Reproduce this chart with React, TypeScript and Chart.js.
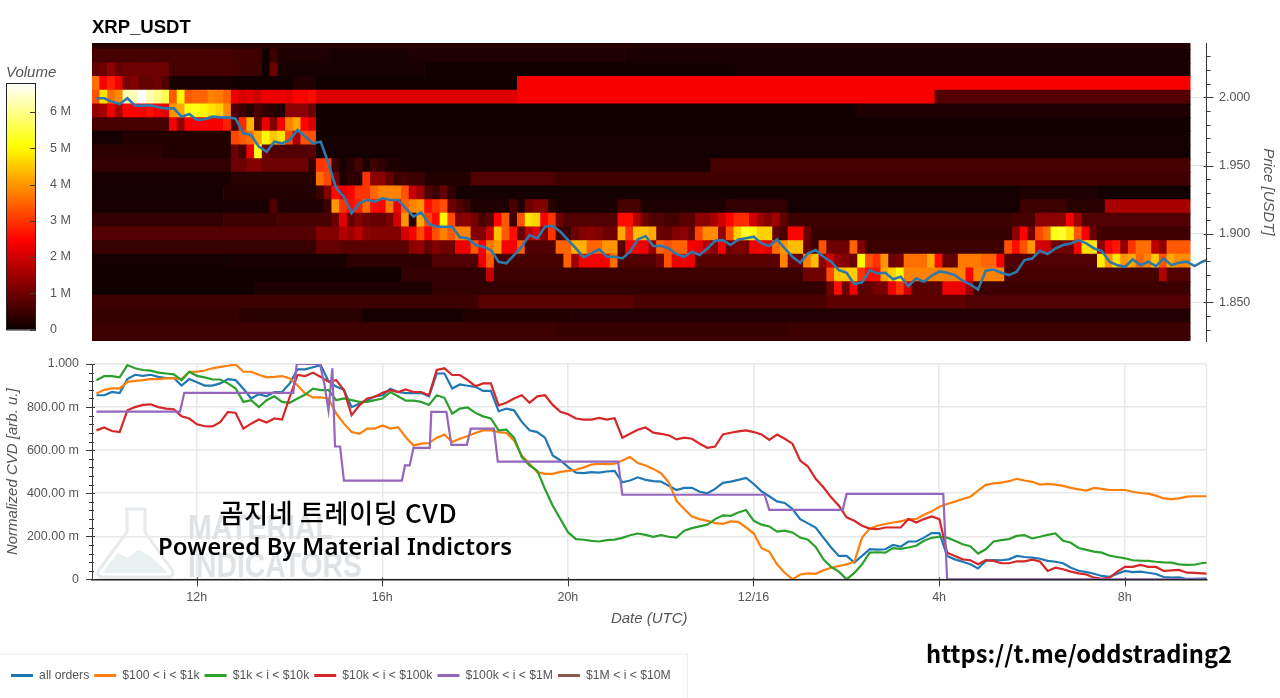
import React, { useEffect, useRef } from "react";
import { Chart, registerables } from "chart.js";

Chart.register(...registerables);
Chart.defaults.font.family = '"Liberation Sans", Arial, sans-serif';
Chart.defaults.animation = false as any;

// ---------- data ----------
const chartTitle = "XRP_USDT";
const legendLabels = ["all orders", "$100 < i < $1k", "$1k < i < $10k", "$10k < i < $100k", "$100k < i < $1M", "$1M < i < $10M"];
const seriesColors = ["#1f77b4", "#ff7f0e", "#2ca02c", "#d62728", "#9467bd", "#8c564b"];
const timeTickLabels: Record<number, string> = { 12: "12h", 16: "16h", 20: "20h", 24: "12/16", 28: "4h", 32: "8h" };

// heatmap rows: pairs of (number of 10-minute columns, volume in millions)
const r204 = [70, .3, 72, .22];
const r203 = [18, .6, 4, .55, 1, .05, 1, .5, 7, .2, 10, .12, 28, .2, 73, .15];
const r202 = [1, .9, 1, 1, 1, 1.3, 1, .9, 6, 1, 9, .6, 3, .5, 1, .05, 1, 1, 19, .12, 40, .08, 59, .15];
const r201 = [1, 3.6, 1, 2.4, 1, 2.8, 1, 2.3, 1, 1.1, 1, 1.2, 2, .9, 1, 1, 1, .7, 8, .15, 8, .08, 3, .25, 26, .05, 87, 2.42];
const r200 = [1, 3.3, 1, 4.8, 1, 3.6, 1, 3.9, 2, 6.3, 1, 6.8, 1, 6.3, 1, 6, 1, 5.6, 1, 3.4, 1, 5, 1, 3.4, 2, 3.5, 1, 3.8, 1, 3.7, 1, 3.5, 1, 2.3, 1, 2.1, 1, 2.2, 1, 2, 3, 2.3, 1, 2.2, 2, 2.5, 1, 2.6, 26, 2.15, 54, 2.42, 33, .75];
const r199 = [1, 1.4, 1, 1.6, 1, 2.3, 1, 1.6, 2, 2.5, 1, 2.4, 1, 2.6, 1, 2.4, 1, 2.2, 1, 4, 1, 4.2, 2, 5.2, 1, 5, 1, 4.8, 1, 4.6, 1, 3.9, 1, .7, 1, .5, 1, .3, 1, .6, 1, .4, 1, .3, 1, .2, 3, 1.3, 1, 1, 70, .08, 43, .2];
const r198 = [10, .6, 1, 2.4, 1, 1.4, 5, 2.4, 1, 2.8, 1, .6, 1, 2.9, 1, 4.3, 1, .8, 1, 2.3, 1, 1.2, 1, 2.4, 1, 3.8, 1, 4.2, 1, 2.5, 1, 2.1, 113, .08];
const r197 = [4, .1, 14, .25, 1, 3.2, 1, 3.4, 1, 3.6, 1, 4.2, 1, 5, 1, 4.5, 1, 4.8, 1, 3.2, 1, 1.6, 2, 3.3, 113, .1];
const r196 = [9, .35, 9, .25, 1, 1, 1, .6, 1, 2.3, 1, 5.2, 1, 1, 5, .7, 1, .8, 113, .1];
const r195 = [18, .4, 2, 1, 2, 1.2, 6, 1, 1, .4, 1, 3, 1, 3.1, 1, .5, 1, .15, 1, .3, 1, .6, 1, .2, 1, .5, 1, .4, 2, .2, 40, .15, 62, .6];
const r194 = [18, .15, 11, .3, 1, 3.6, 1, 3.2, 1, 1.1, 1, .2, 1, .4, 1, .3, 1, 3, 2, 1.3, 1, .9, 1, .5, 1, .6, 2, .5, 6, .25, 11, .7, 82, .55];
const r193 = [17, .1, 12, .25, 1, .5, 1, 1.2, 1, 2.6, 1, 2.2, 1, 2.5, 2, 3, 1, 3.5, 3, 3.8, 1, 3.3, 1, 1.9, 1, 1.5, 1, .7, 1, .5, 1, .9, 1, .4, 73, .1, 10, .2, 12, .08];
const r192 = [23, .15, 1, .7, 6, .2, 1, .5, 1, 4, 1, 3, 1, 2.6, 1, 2.8, 1, 3.6, 1, 2.6, 1, 2.5, 1, 3.7, 1, 2.3, 1, 3.5, 1, 3.8, 1, 4, 1, 2.6, 1, 3, 1, 3.3, 1, 1, 1, .7, 1, .5, 5, .2, 1, .6, 1, .2, 1, 1, 2, 1.2, 1, .3, 8, .15, 3, .6, 11, .2, 8, .4, 30, .1, 6, .5, 5, .3, 11, 1.6];
const r191 = [17, .4, 7, .5, 7, .6, 1, 1, 1, 2.2, 1, .9, 1, 1.2, 1, 1, 2, .9, 1, 1.1, 1, 2, 1, 4, 1, .3, 1, 4.2, 1, 3.2, 1, 2.6, 1, 5, 1, 3.2, 1, 1.2, 1, 1.3, 1, 1.1, 1, .6, 1, .8, 1, 2.5, 1, 3.4, 1, .5, 1, 3.3, 1, 4.8, 1, 4.6, 1, 2.4, 1, 3, 1, 1, 7, .7, 2, 2.6, 1, 1.7, 1, 1, 2, .7, 2, .6, 2, .8, 2, 1.3, 1, 1.6, 1, 2, 1, 2.5, 2, 2.9, 1, 2, 1, 1.5, 1, 1.2, 1, 1.5, 1, .9, 29, .5, 3, .6, 4, 1.3, 1, 2.4, 1, 1.5, 14, .7];
const r190 = [29, .75, 3, 1.2, 1, 1.7, 1, 1.5, 1, 1.8, 1, 1.3, 4, 1.2, 1, 2, 1, 2.4, 1, 3.2, 1, 2.4, 1, 3.3, 1, 3.8, 1, 3.4, 2, 3.8, 2, 1.2, 1, 2, 1, 4.4, 1, 3.4, 1, 2.6, 1, .9, 1, 1.8, 1, 2.2, 1, 1.2, 1, 3, 1, .6, 1, .5, 1, 1, 1, 1.2, 1, 1.3, 1, 1.2, 2, 1, 1, 4.2, 1, 3, 2, 4.4, 1, 4.2, 1, 1, 1, .9, 1, 1.2, 1, 1.3, 1, 1, 1, 3.2, 2, 3.9, 1, 1.4, 1, 3.3, 1, 4.6, 1, 5.3, 1, 5, 2, 4.6, 1, .9, 1, .6, 2, 2.5, 1, 1, 26, .45, 1, 1.3, 1, 2.5, 1, 1.1, 1, 3.2, 1, 3.6, 1, 5.2, 1, 5.4, 1, 4.8, 1, 3.4, 1, 2.4, 1, .9, 12, .55];
const r189 = [29, .45, 3, .9, 9, .8, 1, 1.3, 1, 1.4, 1, .9, 1, 1.2, 2, 1, 2, 2.3, 1, 3.4, 1, 2.4, 1, 3.7, 1, 4, 2, 2.4, 1, 3.4, 4, .7, 2, 3.5, 2, 4.3, 2, 3.5, 2, 4, 1, .8, 2, 2.4, 1, 2.3, 1, 1.4, 1, 3.5, 1, 3.3, 2, 3.5, 1, 2.4, 1, 2.3, 1, 1.7, 1, 1.2, 1, 2.4, 1, 1, 1, 1.2, 1, 1.1, 1, 2.3, 1, 2.4, 1, 2.2, 1, 3.6, 1, 4, 2, 4.4, 1, .9, 1, .5, 1, 3.3, 3, 1, 1, 3.5, 1, 1.2, 18, .5, 1, 3.3, 1, 2.6, 1, 3.3, 1, 4, 2, 2, 3, 1, 1, 2.5, 2, 4.8, 1, 1.3, 1, 2.4, 1, 2.7, 1, 1.4, 1, 3, 2, 3.6, 1, 1.8, 1, 1.4, 3, 3.4];
const r188 = [18, .1, 15, .15, 11, .35, 6, .7, 1, 2.3, 1, 3.4, 9, .6, 1, 3.5, 1, 1.5, 4, 2.4, 1, 3.6, 5, .7, 1, 1, 1, 3.3, 3, 2.3, 11, .8, 1, 3.8, 2, 1, 1, 3.8, 1, 4.4, 1, 1.3, 1, 2, 1, 1.4, 1, 1.2, 1, 1, 1, 5, 1, 3.3, 1, 3, 1, 4, 1, 1, 1, 1.1, 3, 3.6, 1, 4.2, 1, 2.6, 2, .9, 3, 3.7, 2, 3.5, 1, 2.4, 12, .7, 1, 4.9, 1, 4, 1, 4.8, 1, 4, 1, 4.2, 1, 3.5, 1, 3.8, 1, 4.5, 1, 3.3, 1, 4.2, 2, 3.9];
const r187 = [40, .08, 11, .4, 1, 1.9, 40, .5, 3, 1, 1, 3.2, 2, 4.5, 1, 4.6, 1, 3, 2, 2.6, 1, 4.2, 1, 4.6, 1, 5, 8, 3.8, 1, 2.5, 4, 3.8, 20, .6, 1, 1.7, 3, .7];
const r186 = [21, .05, 23, .2, 51, .4, 1, 1, 1, 2.6, 1, 1, 1, 2.4, 1, .8, 1, .9, 2, 1.1, 1, 2.4, 1, 3, 1, 2, 4, .8, 3, 2.3, 1, 1.5, 28, .5];
const r185 = [50, .5, 20, .8, 25, .65, 18, .85, 29, .7];
const r184 = [19, .45, 16, .3, 13, .12, 14, .25, 80, .22];
const r183 = [60, .5, 30, .45, 52, .5];
const r182 = [142, .5];

const heatPrices = [2.04, 2.03, 2.02, 2.01, 2.0, 1.99, 1.98, 1.97, 1.96, 1.95, 1.94, 1.93, 1.92, 1.91, 1.9, 1.89, 1.88, 1.87, 1.86, 1.85, 1.84, 1.83, 1.82];
const heatRows = [r204, r203, r202, r201, r200, r199, r198, r197, r196, r195, r194, r193, r192, r191, r190, r189, r188, r187, r186, r185, r184, r183, r182];

// series on the 10-minute grid
const price = [1.9993, 1.9993, 1.9968, 1.9951, 1.9993, 1.9939, 1.9939, 1.9941, 1.9927, 1.9919, 1.9919, 1.9858, 1.9878, 1.9834, 1.9839, 1.9858, 1.9853, 1.9853, 1.9844, 1.9736, 1.9724, 1.9639, 1.9602, 1.9675, 1.9663, 1.9688, 1.9761, 1.9712, 1.9663, 1.9675, 1.9517, 1.9334, 1.9273, 1.9151, 1.9224, 1.9249, 1.9236, 1.9261, 1.9249, 1.9249, 1.9188, 1.9127, 1.9158, 1.9073,
  1.9053, 1.9053, 1.9053, 1.8975, 1.8968, 1.8919, 1.8907, 1.8882, 1.8797, 1.8785, 1.8846, 1.8907, 1.8992, 1.8968, 1.9053, 1.906, 1.9016, 1.8955, 1.8894, 1.8829, 1.8858, 1.889, 1.8833, 1.8833, 1.8821, 1.887, 1.896, 1.8985, 1.8912, 1.8914, 1.8894, 1.8853, 1.8833, 1.887, 1.8846, 1.8894, 1.895, 1.8955, 1.8919, 1.896, 1.8968, 1.898, 1.8931, 1.8912, 1.896, 1.8894, 1.8833, 1.8789, 1.8858, 1.8882, 1.8833, 1.8797, 1.8736, 1.8716, 1.8633,
  1.8646, 1.8736, 1.8712, 1.8716, 1.8668, 1.8687, 1.8619, 1.8675, 1.8651, 1.8694, 1.8726, 1.8716, 1.8699, 1.8658, 1.8631, 1.8594, 1.8731, 1.874, 1.8716, 1.8699, 1.8724, 1.8809, 1.8821, 1.8877, 1.8853, 1.8894, 1.8919, 1.8931, 1.8955, 1.8931, 1.8894, 1.8875, 1.8797, 1.8772, 1.876, 1.8814, 1.8772, 1.8797, 1.8765, 1.8821, 1.8772, 1.879, 1.8797, 1.8765, 1.8797, 1.8816];

const cvdAll = [.855, .855, .87, .865, .93, .95, .945, .95, .94, .935, .935, .9, .93, .915, .9, .9, .91, .93, .925, .885, .84, .86, .85, .87, .87, .91, .975, .975, .985, .995, .92, .895, .88, .8, .815, .83, .85, .855, .885, .87, .865, .865, .865, .85,
  .956, .956, .886, .905, .899, .894, .875, .875, .781, .793, .785, .731, .692, .684, .658, .575, .552, .521, .496, .493, .498, .496, .501, .504, .451, .459, .474, .462, .456, .454, .435, .415, .425, .425, .407, .4, .42, .448, .454, .462, .471, .443, .409, .386, .362, .355, .327, .28, .26, .241, .194, .148, .109, .109, .078,
  .109, .14, .138, .14, .16, .152, .176, .176, .194, .215, .215, .109, .093, .082, .07, .051, .086, .09, .089, .093, .109, .104, .101, .096, .086, .082, .075, .054, .04, .034, .026, .016, .012, .026, .039, .034, .036, .031, .025, .011, .008, .009, .002, .002, .004, .005];
const cvd100 = [.863, .88, .887, .887, .917, .922, .925, .93, .93, .933, .933, .93, .964, .964, .97, .98, .987, .992, .998, .964, .964, .95, .938, .94, .944, .933, .9, .863, .845, .845, .84, .77, .723, .684, .676, .7, .7, .715, .7, .707, .66, .622, .63, .633,
  .658, .672, .638, .653, .666, .68, .692, .692, .684, .68, .645, .575, .537, .498, .49, .49, .499, .504, .509, .52, .533, .537, .535, .537, .552, .568, .54, .529, .513, .493, .451, .365, .327, .292, .28, .272, .261, .258, .269, .267, .241, .213, .145, .129, .07, .031, 0, .023, .028, .026, .042, .054, .062, .07, .082,
  .194, .236, .249, .257, .264, .269, .28, .28, .3, .316, .337, .35, .361, .373, .384, .412, .439, .446, .449, .456, .467, .459, .453, .44, .443, .44, .434, .425, .418, .412, .425, .42, .415, .415, .415, .407, .401, .398, .389, .376, .373, .376, .384, .386, .386, .386];
const cvd1k = [.925, .944, .944, .938, .995, .98, .972, .969, .96, .956, .952, .925, .964, .945, .938, .928, .928, .91, .886, .824, .832, .8, .832, .85, .824, .82, .84, .858, .886, .879, .879, .832, .84, .832, .824, .824, .832, .84, .87, .85, .83, .83, .824, .81,
  .855, .843, .77, .793, .798, .773, .757, .747, .692, .695, .658, .568, .529, .505, .42, .342, .28, .218, .187, .184, .179, .176, .182, .185, .193, .205, .213, .207, .198, .205, .198, .194, .226, .238, .246, .254, .28, .297, .295, .311, .322, .272, .254, .246, .222, .226, .218, .194, .184, .151, .093, .058, .036, 0, .03,
  .07, .124, .126, .124, .145, .142, .148, .156, .179, .193, .198, .194, .179, .163, .154, .12, .14, .176, .182, .187, .202, .205, .19, .198, .207, .213, .179, .17, .146, .137, .129, .124, .11, .104, .098, .089, .087, .086, .082, .079, .078, .07, .067, .068, .076, .078];
const cvd10k = [.692, .705, .689, .684, .785, .8, .81, .813, .8, .793, .79, .757, .747, .72, .711, .71, .73, .778, .773, .7, .723, .742, .728, .747, .742, .848, .949, .944, .96, .94, .918, .925, .879, .762, .808, .84, .848, .866, .879, .87, .882, .87, .87, .855,
  .972, .98, .949, .949, .925, .897, .91, .91, .808, .82, .84, .855, .82, .85, .855, .81, .778, .767, .747, .742, .742, .75, .742, .748, .658, .676, .695, .705, .681, .676, .669, .65, .658, .653, .63, .611, .617, .673, .681, .687, .692, .684, .673, .648, .672, .653, .63, .552, .524, .467, .428, .381, .342, .288, .272,
  .249, .236, .233, .241, .241, .241, .28, .264, .28, .292, .28, .124, .109, .093, .089, .07, .089, .086, .075, .075, .084, .084, .092, .083, .039, .054, .047, .036, .028, .023, .008, .003, .008, .036, .058, .058, .067, .058, .058, .039, .042, .044, .031, .03, .028, .026];
// purple series is a step line: 10-minute grid positions and values
const cvd100kIdx = [0, 10.8, 11.36, 25.45, 25.9, 28.9, 29.5, 30, 30.5, 30.85, 31.5, 32, 39.5, 39.9, 40.5, 41, 43.1, 43.3, 45.25, 45.9, 47.9, 48.4, 51.4, 51.9, 67.45, 68, 86.4, 87, 96.5, 97, 109.5, 110, 144];
const cvd100k = [.779, .779, .866, .866, 1, 1, .9, .785, .98, .617, .617, .459, .459, .529, .529, .611, .611, .778, .778, .625, .625, .7, .7, .547, .547, .393, .393, .323, .323, .397, .397, 0, 0];
const cvd1mIdx = [0, 144];
const cvd1m = [0, 0];

// ---------- scale geometry ----------
const X_MIN = 9.744, X_MAX = 33.763;
const HEAT_START = 9.744, GRID_START = 9.84;
const P_MIN = 1.8217, P_MAX = 2.0397;
const V_MAX = 6.8;

const gridTime = (i: number) => GRID_START + i / 6;
const xyOnGrid = (vals: number[]) => vals.map((y, i) => ({ x: gridTime(i), y }));

function hot(v: number) {
  const t = Math.min(1, Math.max(0, v / V_MAX));
  const c = (a: number) => Math.round(255 * Math.min(1, Math.max(0, a)));
  return `rgb(${c(0.0416 + (t / 0.365) * 0.9584)},${c((t - 0.365) / 0.381)},${c((t - 0.746) / 0.254)})`;
}

function heatBars() {
  const out: any[] = [];
  heatRows.forEach((row, r) => {
    let col = 0;
    for (let k = 0; k < row.length; k += 2) {
      const n = row[k], v = row[k + 1];
      const end = Math.min(142, col + n);
      if (end > col) out.push({ x: [HEAT_START + col / 6, HEAT_START + end / 6], y: heatPrices[r], v });
      col = end;
    }
  });
  return out;
}

const TICK = "#3a3a3a";
const LABEL = "#555";

function axisMarks(axis: string, major: number, minor: number, mIn: number, mOut: number, nIn: number, nOut: number) {
  return {
    id: "axisMarks" + axis,
    afterDraw(chart: any) {
      const s = chart.scales[axis], c = chart.ctx;
      c.save();
      c.strokeStyle = TICK;
      c.lineWidth = 1;
      const horiz = s.isHorizontal();
      const sign = horiz ? 1 : s.position === "right" ? 1 : -1;
      const edge = horiz ? chart.chartArea.bottom : s.position === "right" ? chart.chartArea.right : chart.chartArea.left;
      const step = minor || major;
      const first = Math.ceil(s.min / step - 1e-6);
      const last = Math.floor(s.max / step + 1e-6);
      c.beginPath();
      for (let k = first; k <= last; k++) {
        const v = k * step;
        const isMajor = Math.abs(v / major - Math.round(v / major)) < 1e-6;
        const a = isMajor ? mIn : nIn, b = isMajor ? mOut : nOut;
        if (!isMajor && !minor) continue;
        const p = Math.round(s.getPixelForValue(v)) + 0.5;
        if (horiz) { c.moveTo(p, edge - a); c.lineTo(p, edge + b); }
        else { c.moveTo(edge - sign * a, p); c.lineTo(edge + sign * b, p); }
      }
      c.stroke();
      c.restore();
    },
  };
}

const watermark = {
  id: "watermark",
  beforeDatasetsDraw(chart: any) {
    const c = chart.ctx;
    c.save();
    c.strokeStyle = "#e6eaec";
    c.lineWidth = 3;
    c.lineJoin = "round";
    c.beginPath();
    c.moveTo(125, 509); c.lineTo(145, 509); c.lineTo(145, 532); c.lineTo(172, 570);
    c.quadraticCurveTo(175, 577, 167, 577); c.lineTo(104, 577);
    c.quadraticCurveTo(95, 577, 99, 570); c.lineTo(127, 532); c.lineTo(127, 509);
    c.stroke();
    c.fillStyle = "#e8f0f0";
    c.beginPath();
    c.moveTo(104, 570); c.lineTo(118, 553); c.lineTo(128, 558); c.lineTo(138, 550); c.lineTo(150, 556); c.lineTo(167, 572);
    c.lineTo(166, 573); c.lineTo(105, 573);
    c.closePath(); c.fill();
    c.fillStyle = "#dfe3e6";
    c.font = 'bold 35px "Liberation Sans"';
    c.textBaseline = "alphabetic";
    c.fillText("MATERIAL", 188, 539, 145);
    c.fillText("INDICATORS", 188, 577, 174);
    c.restore();
  },
};

const legendPlacer = {
  id: "legendPlacer",
  afterLayout(chart: any) {
    const l = chart.legend;
    if (l) { l.left = 6; l.top = 664.5; l.bottom = 698; l.right = 690; }
  },
  beforeDraw(chart: any) {
    const c = chart.ctx;
    c.save();
    c.strokeStyle = "#eeeeee";
    c.lineWidth = 1;
    c.strokeRect(-2, 654, 689.5, 60);
    c.restore();
  },
};

const rightEdge = {
  id: "rightEdge",
  beforeDatasetsDraw(chart: any) {
    const { right, top, bottom } = chart.chartArea, c = chart.ctx;
    c.save();
    c.strokeStyle = "#e8e8e8";
    c.lineWidth = 1.5;
    c.beginPath(); c.moveTo(right, top); c.lineTo(right, bottom); c.stroke();
    c.restore();
  },
};

const colorBarFrame = {
  id: "colorBarFrame",
  afterDatasetsDraw(chart: any) {
    const { left, right, top, bottom } = chart.chartArea, c = chart.ctx;
    c.save();
    c.strokeStyle = "#222";
    c.lineWidth = 1;
    c.strokeRect(left + 0.5, top + 0.5, right - left - 1, bottom - top);
    c.restore();
  },
};

function overlayText(): { text: string; style: React.CSSProperties }[] {
  return [
    { text: "곰지네 트레이딩 CVD", style: { left: 338.5, top: 511, transform: "translate(-50%,-50%)", font: '500 26px "Noto Sans CJK KR"', letterSpacing: 0.7 } },
    { text: "Powered By Material Indictors", style: { left: 158, top: 545, transform: "translateY(-50%)", font: '600 24px "Noto Sans"', letterSpacing: 0.05 } },
    { text: "https://t.me/oddstrading2", style: { left: 926, top: 653, transform: "translateY(-50%)", font: '700 23.7px "Noto Sans CJK KR"' } },
  ];
}

export default function App() {
  const heatRef = useRef<HTMLCanvasElement>(null);
  const cvdRef = useRef<HTMLCanvasElement>(null);
  const barRef = useRef<HTMLCanvasElement>(null);

  useEffect(() => {
    const heat = new Chart(heatRef.current!, {
      type: "line",
      data: {
        datasets: [
          { type: "line", order: 1, data: xyOnGrid(price), borderColor: "#2f78ab", borderWidth: 2.6, pointRadius: 0, tension: 0 } as any,
          {
            type: "bar", order: 2, indexAxis: "y", data: heatBars(), barThickness: 14.3, borderWidth: 0,
            backgroundColor: (ctx: any) => hot(ctx.raw ? ctx.raw.v : 0),
          } as any,
        ],
      },
      options: {
        responsive: false, animation: false, events: [],
        layout: { padding: { left: 92, right: 0, top: 0, bottom: 357 } },
        plugins: {
          legend: { display: false }, tooltip: { enabled: false },
          title: { display: true, text: chartTitle, align: "start", color: "#000", font: { size: 18.5, weight: "bold" }, padding: { top: 16.5, bottom: 4.3 } },
        },
        scales: {
          x: { type: "linear", min: X_MIN, max: X_MAX, offset: false, display: false, beginAtZero: false },
          y: {
            type: "linear", position: "right", min: P_MIN, max: P_MAX, offset: false, beginAtZero: false,
            afterFit: (s: any) => { s.width = 73.5; },
            grid: { color: "#e5e5e5", lineWidth: 1, drawTicks: false, offset: false },
            border: { color: "#333", z: 1 },
            ticks: { stepSize: 0.05, includeBounds: false, autoSkip: false, padding: 12.5, color: LABEL, font: { size: 12.5 }, callback: (v: any) => Number(v).toFixed(3) },
            title: { display: true, text: "Price [USDT]", color: LABEL, font: { size: 15, style: "italic" }, padding: { top: 3, bottom: 0 } },
          },
        } as any,
      } as any,
      plugins: [axisMarks("y", 0.05, 0.01, 3, 7, 0, 4)],
    });

    const lineDs = (label: string, color: string, data: any[], order: number, width = 2.2) => ({
      label, data, order, borderColor: color, backgroundColor: color, borderWidth: width, pointRadius: 0, tension: 0,
    });
    const idxXY = (idx: number[], vals: number[]) => idx.map((i, k) => ({ x: gridTime(i), y: vals[k] }));
    const cvd = new Chart(cvdRef.current!, {
      type: "line",
      data: {
        datasets: [
          lineDs(legendLabels[0], seriesColors[0], xyOnGrid(cvdAll), 5),
          lineDs(legendLabels[1], seriesColors[1], xyOnGrid(cvd100), 4),
          lineDs(legendLabels[2], seriesColors[2], xyOnGrid(cvd1k), 3),
          lineDs(legendLabels[3], seriesColors[3], xyOnGrid(cvd10k), 2),
          lineDs(legendLabels[4], seriesColors[4], idxXY(cvd100kIdx, cvd100k), 1),
          lineDs(legendLabels[5], seriesColors[5], idxXY(cvd1mIdx, cvd1m), 6, 1),
        ],
      },
      options: {
        responsive: false, animation: false, events: [],
        layout: { padding: { left: 0, right: 73.5, top: 364, bottom: 41.4 } },
        plugins: {
          tooltip: { enabled: false },
          legend: {
            position: "bottom", align: "start",
            labels: {
              boxWidth: 22, boxHeight: 3, padding: 5, color: "#555", font: { size: 12.2 },
              generateLabels: (ch: any) => (Chart.defaults.plugins.legend.labels.generateLabels as any)(ch).map((l: any) => ({ ...l, lineWidth: 0 })),
              sort: (a: any, b: any) => a.datasetIndex - b.datasetIndex,
            },
          },
        },
        scales: {
          x: {
            type: "linear", min: X_MIN, max: X_MAX,
            afterFit: (s: any) => { s.height = 50; },
            grid: { color: "#e8e8e8", lineWidth: 1.5, drawTicks: false },
            border: { color: "#222", width: 1.5, z: 1 },
            ticks: { stepSize: 4, includeBounds: false, autoSkip: false, maxRotation: 0, padding: 10.5, color: LABEL, font: { size: 12.5 }, callback: (v: any) => timeTickLabels[Number(v)] ?? "" },
            title: { display: true, text: "Date (UTC)", color: LABEL, font: { size: 15, style: "italic" }, padding: { top: 0, bottom: 1.3 } },
          },
          y: {
            type: "linear", min: 0, max: 1,
            afterFit: (s: any) => { s.width = 92; },
            grid: { color: "#e8e8e8", lineWidth: 1.5, drawTicks: false },
            border: { color: "#333", z: 1 },
            ticks: {
              stepSize: 0.2, autoSkip: false, padding: 13, color: LABEL, font: { size: 12.5 },
              callback: (v: any) => { const n = Number(v); return n === 0 ? "0" : n >= 1 ? "1.000" : (n * 1000).toFixed(2) + " m"; },
            },
            title: { display: true, text: "Normalized CVD [arb. u.]", color: LABEL, font: { size: 15, style: "italic" }, padding: { top: 4, bottom: 0 } },
          },
        } as any,
      } as any,
      plugins: [watermark, rightEdge, legendPlacer, axisMarks("y", 0.2, 0.04, 3, 6, 2, 3), axisMarks("x", 4, 0, 2, 7, 0, 0)],
    });

    const steps = Array.from({ length: 137 }, (_, i) => i * 0.05);
    const bar = new Chart(barRef.current!, {
      type: "bar",
      data: {
        datasets: [{
          indexAxis: "y", data: steps.map((v) => ({ x: [0, 1], y: v })), barThickness: 2.2, borderWidth: 0,
          backgroundColor: (ctx: any) => hot(ctx.raw ? ctx.raw.y : 0),
        } as any],
      },
      options: {
        responsive: false, animation: false, events: [], indexAxis: "y",
        layout: { padding: { left: 6, right: 1205, top: 0, bottom: 368.5 } },
        plugins: {
          legend: { display: false }, tooltip: { enabled: false },
          title: { display: true, text: "Volume", align: "start", color: LABEL, font: { size: 15, style: "italic", weight: "normal" }, padding: { top: 64, bottom: 1 } },
        },
        scales: {
          x: { type: "linear", min: 0, max: 1, display: false, offset: false },
          y: {
            type: "linear", position: "right", min: 0, max: V_MAX, offset: false, beginAtZero: true,
            afterFit: (s: any) => { s.width = 39; },
            grid: { display: false, drawTicks: false },
            border: { display: false },
            ticks: { stepSize: 1, includeBounds: false, autoSkip: false, padding: 14, color: LABEL, font: { size: 12.5 }, callback: (v: any) => (Number(v) === 0 ? "0" : v + " M") },
          },
        } as any,
      } as any,
      plugins: [colorBarFrame, axisMarks("y", 1, 0, 6, 0, 0, 0)],
    });

    return () => { heat.destroy(); cvd.destroy(); bar.destroy(); };
  }, []);

  const cv: React.CSSProperties = { position: "absolute", left: 0, top: 0 };
  return (
    <div style={{ position: "absolute", left: 0, top: 0, width: 1280, height: 698, overflow: "hidden", background: "#fff" }}>
      <canvas ref={cvdRef} width={1280} height={698} style={cv} />
      <canvas ref={heatRef} width={1280} height={698} style={cv} />
      <canvas ref={barRef} width={1280} height={698} style={cv} />
      {overlayText().map((t) => (
        <span key={t.text} style={{ position: "absolute", whiteSpace: "nowrap", color: "#000", ...t.style }}>{t.text}</span>
      ))}
    </div>
  );
}
